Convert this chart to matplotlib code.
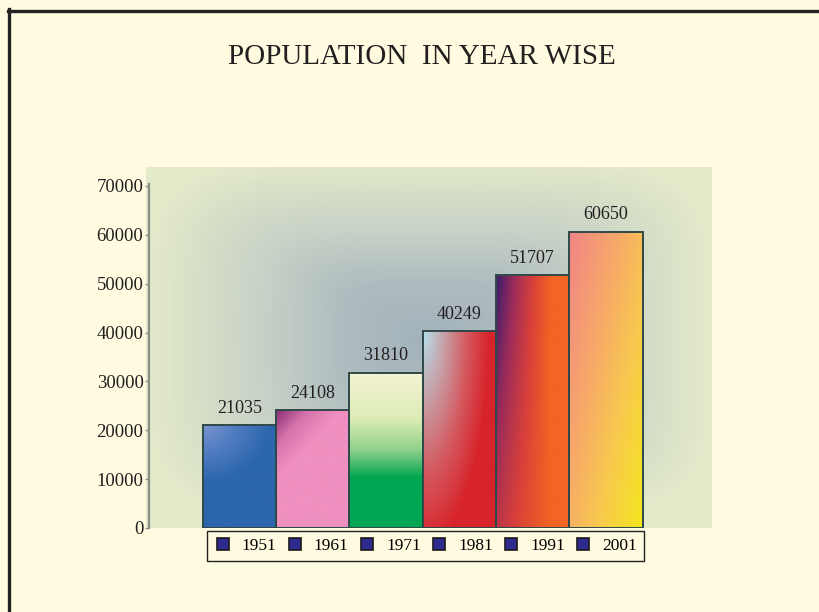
import matplotlib
matplotlib.use("Agg")
import matplotlib.pyplot as plt
import numpy as np
from matplotlib.colors import LinearSegmentedColormap
from matplotlib.lines import Line2D

# data
years = ["1951", "1961", "1971", "1981", "1991", "2001"]
population = [21035, 24108, 31810, 40249, 51707, 60650]
y_ticks = [0, 10000, 20000, 30000, 40000, 50000, 60000, 70000]

CREAM = "#fffbe0"
plt.rcParams["font.family"] = ["Liberation Serif", "DejaVu Serif"]

fig = plt.figure(figsize=(8.2, 6.12), dpi=100, facecolor=CREAM)

# page frame (left and top edges)
fig.add_artist(Line2D([9.5 / 820, 9.5 / 820], [0, 1 - 9 / 612], color="#222222", lw=2.4))
fig.add_artist(Line2D([8 / 820, 1], [1 - 10.5 / 612, 1 - 10.5 / 612], color="#222222", lw=2.4))

fig.text(422 / 820, 1 - 57 / 612, "POPULATION  IN YEAR WISE", ha="center", va="center",
         fontsize=21, color="#231f20")

# soft rectangular gradient behind the plot
bg = fig.add_axes([146 / 820, 84 / 612, 566 / 820, 361 / 612], zorder=0)
u, v = np.meshgrid(np.linspace(-1, 1, 400), np.linspace(-1, 1, 300))
d = (np.abs(u) ** 5 + np.abs(v + 0.05) ** 5) ** (1 / 5)
bg_cmap = LinearSegmentedColormap.from_list(
    "bg", [(0, "#a3b2bb"), (0.3, "#afbcbf"), (0.6, "#c8d2c7"), (0.85, "#d9e1c7"), (1, "#e4eaca")])
bg.imshow(np.clip(d, 0, 1), cmap=bg_cmap, vmin=0, vmax=1, aspect="auto", interpolation="bilinear")
bg.axis("off")

ax = fig.add_axes([149 / 820, 84 / 612, 563 / 820, 342 / 612], zorder=1)
ax.patch.set_alpha(0)
x = np.arange(len(years))
bars = ax.bar(x, population, width=1.0, facecolor="none", edgecolor="#2f4848", linewidth=1.4, zorder=3)
ax.set_xlim(-1.235, 6.446)
ax.set_ylim(0, 70000)


def mix(stops, t):
    cm = LinearSegmentedColormap.from_list("g", stops)
    return cm(np.clip(t, 0, 1))[..., :3]


def fill(uu, vv, i):
    if i == 0:
        t = 1 - np.sqrt((uu / 0.9) ** 2 + (vv / 0.55) ** 2)
        return mix(["#2c66ad", "#4f7cc0", "#7a94d0"], t)
    if i == 1:
        t = 1 - (uu + 1.5 * vv) / 0.9
        return mix(["#ef90c0", "#d674ad", "#8a2d72"], t)
    if i == 2:
        return mix([(0, "#f6f3d4"), (0.3, "#dcecb6"), (0.5, "#8fd08a"), (0.68, "#00a651"), (1, "#00a651")], vv)
    if i == 3:
        t = 1 - np.sqrt((uu / 0.9) ** 2 + (vv / 1.1) ** 2)
        return mix(["#d8232a", "#d4585e", "#c99ca3", "#b6dfea"], t)
    if i == 4:
        t = (1 - uu / 0.75) * (1 - 0.5 * vv)
        return mix(["#f26522", "#d8403a", "#9c2c5a", "#3a1c6c"], t)
    t = 0.6 * uu + 0.5 * vv
    return mix(["#f08585", "#f7a56c", "#f8c94e", "#f3e61e"], t / 1.1)


for i, b in enumerate(bars):
    x0, w, h = b.get_x(), b.get_width(), b.get_height()
    uu, vv = np.meshgrid(np.linspace(0, 1, 80), np.linspace(0, 1, 200))
    img = ax.imshow(fill(uu, vv, i), extent=(x0, x0 + w, 0, h), origin="upper",
                    aspect="auto", interpolation="bilinear", zorder=2)
    img.set_clip_path(b)

ax.bar_label(bars, labels=[str(p) for p in population], padding=6, fontsize=13, color="#231f20")

for s in ["top", "right", "bottom"]:
    ax.spines[s].set_visible(False)
ax.spines["left"].set_color("#8a8f86")
ax.spines["left"].set_linewidth(1.6)
ax.spines["left"].set_bounds(0, 70400)
ax.set_xticks([])
ax.set_yticks(y_ticks)
ax.tick_params(axis="y", length=3, width=1, color="#8a8f86", labelsize=13.5, labelcolor="#231f20", pad=1)

handles = [Line2D([], [], marker="s", linestyle="none", markersize=8, markerfacecolor="#2b2b8e",
                  markeredgecolor="#1a1a1a", markeredgewidth=1.2) for _ in years]
leg = fig.legend(handles, years, loc="center", bbox_to_anchor=(425.5 / 820, 1 - 546 / 612), ncol=6,
                 fontsize=12.5, frameon=True, fancybox=False, edgecolor="#222222", facecolor=CREAM,
                 framealpha=1, handlelength=1.0, handletextpad=0.6, columnspacing=0.55, borderpad=0.4,
                 borderaxespad=0)
leg.get_frame().set_linewidth(1.0)

fig.savefig("out.png", dpi=100, facecolor=CREAM)
